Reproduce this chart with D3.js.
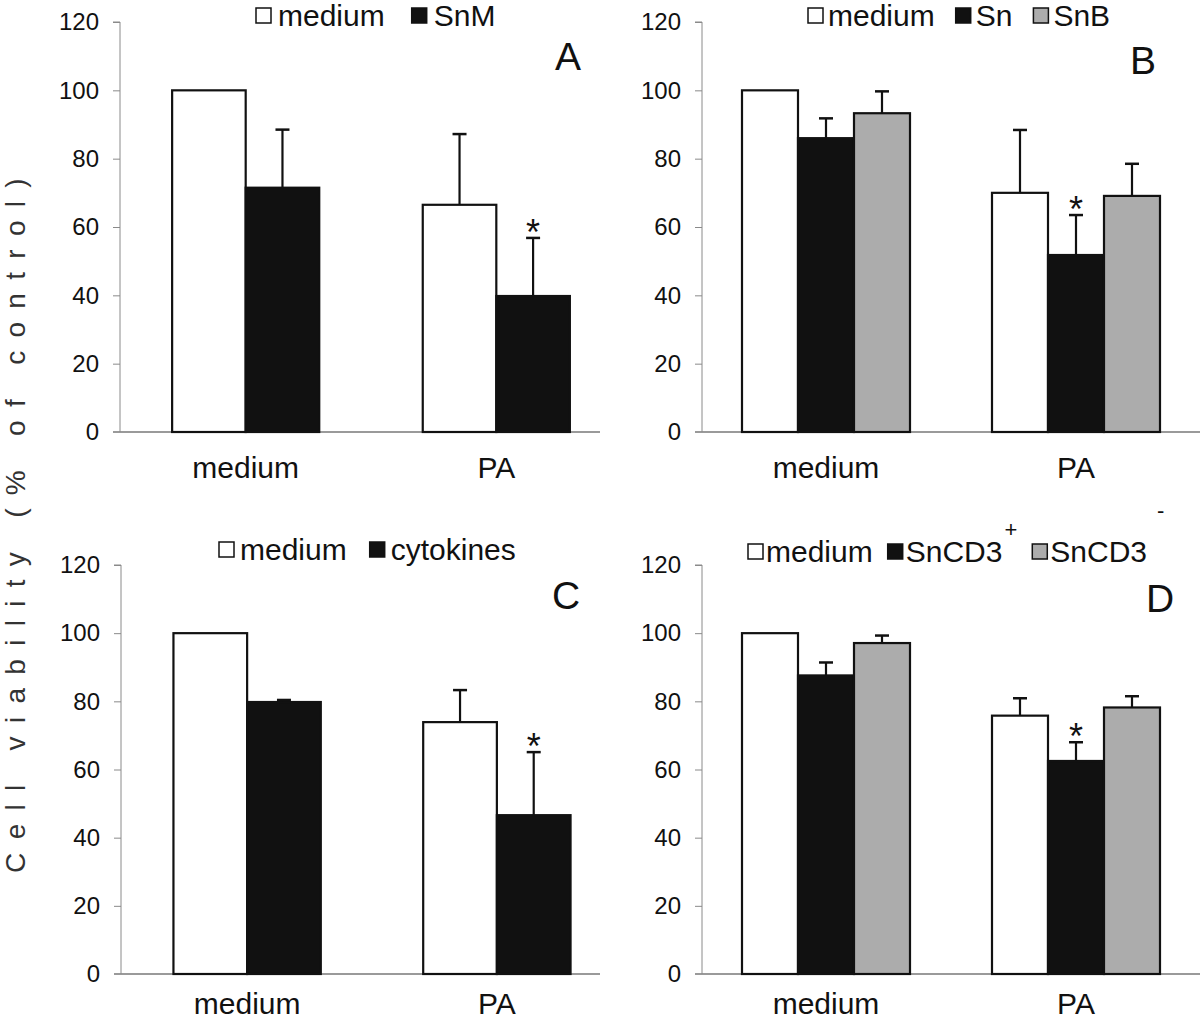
<!DOCTYPE html>
<html><head><meta charset="utf-8">
<script src="https://cdn.jsdelivr.net/npm/d3@7"></script>
<style>
html,body{margin:0;padding:0;background:#fff;}
svg{display:block;font-family:"Liberation Sans",Arial,sans-serif;}
</style></head>
<body>
<svg id="chart" width="1200" height="1021"></svg>
<script>
// ---------- data ----------
const categories = ["medium", "PA"];
const tickValues = [0, 20, 40, 60, 80, 100, 120];
const yLabel = "Cell viability (% of control)";

// Panel A
const seriesA = ["medium", "SnM"];
const valuesA = [[100, 66.5], [71.5, 39.8]];          // [series][category]
const errTopA = [[null, 87.2], [88.5, 56.8]];
const starA   = [[false, false], [false, true]];

// Panel B
const seriesB = ["medium", "Sn", "SnB"];
const valuesB = [[100, 70.0], [86.0, 51.8], [93.3, 69.1]];
const errTopB = [[null, 88.4], [91.8, 63.5], [99.7, 78.5]];
const starB   = [[false, false], [false, true], [false, false]];

// Panel C
const seriesC = ["medium", "cytokines"];
const valuesC = [[100, 73.9], [79.8, 46.6]];
const errTopC = [[null, 83.3], [80.4, 65.1]];
const starC   = [[false, false], [false, true]];

// Panel D
const seriesD = ["medium", "SnCD3", "SnCD3"];
const seriesSupD = ["", "+", "-"];
const valuesD = [[100, 75.8], [87.6, 62.5], [97.1, 78.2]];
const errTopD = [[null, 80.9], [91.4, 68.0], [99.3, 81.5]];
const starD   = [[false, false], [false, true], [false, false]];

// ---------- styling / layout ----------
const fills3 = ["#ffffff", "#111111", "#acacac"];
const panels = [
  {letter:"A", series:seriesA, sup:["",""], values:valuesA, err:errTopA, star:starA,
   ax:120, xr:[120, 622], pin:0.413, pout:0.208, base:[113, 600], yr:[432, 22],
   legendX:256, legendY:26, legendGap:27, sqGap:7, letterX:568, letterY:70, catY:478},
  {letter:"B", series:seriesB, sup:["","",""], values:valuesB, err:errTopB, star:starB,
   ax:702, xr:[702, 1200], pin:0.328, pout:0.16, base:[695, 1200], yr:[432, 22],
   legendX:808, legendY:26, legendGap:21, sqGap:5, letterX:1143, letterY:74, catY:478},
  {letter:"C", series:seriesC, sup:["",""], values:valuesC, err:errTopC, star:starC,
   ax:121, xr:[121, 623], pin:0.41, pout:0.21, base:[114, 600], yr:[974, 565],
   legendX:219, legendY:560, legendGap:23, sqGap:6, letterX:566, letterY:609, catY:1014},
  {letter:"D", series:seriesD, sup:seriesSupD, values:valuesD, err:errTopD, star:starD,
   ax:702, xr:[702, 1200], pin:0.328, pout:0.16, base:[695, 1200], yr:[974, 565],
   legendX:748, legendY:562, legendGap:15, sqGap:3, letterX:1160, letterY:612, catY:1014}
];

const svg = d3.select("#chart");

// y axis label
svg.append("text")
  .attr("transform", "translate(25,519) rotate(-90)")
  .attr("text-anchor", "middle")
  .attr("font-size", 28)
  .attr("letter-spacing", 13.3)
  .attr("fill", "#333")
  .text(yLabel);

panels.forEach(p => {
  const g = svg.append("g");
  const y = d3.scaleLinear().domain([0, 120]).range(p.yr);
  const x0 = d3.scaleBand().domain(categories).range(p.xr)
      .paddingInner(p.pin).paddingOuter(p.pout);
  const x1 = d3.scaleBand().domain(d3.range(p.series.length)).range([0, x0.bandwidth()]);

  // baseline
  g.append("line")
    .attr("x1", p.base[0]).attr("x2", p.base[1])
    .attr("y1", y(0)).attr("y2", y(0))
    .attr("stroke", "#9a9a9a").attr("stroke-width", 2);

  // y axis
  const axis = d3.axisLeft(y).tickValues(tickValues).tickSize(7).tickPadding(14);
  const ag = g.append("g").attr("transform", `translate(${p.ax},0)`).call(axis);
  ag.select(".domain").attr("stroke", "#8a8a8a").attr("stroke-width", 1)
    .attr("d", `M0,${y(0)}V${y(120)}H-7`);
  ag.selectAll(".tick line").attr("stroke", "#8a8a8a");
  ag.selectAll(".tick text").attr("font-size", 24).attr("fill", "#111")
    .attr("font-family", '"Liberation Sans",Arial,sans-serif');
  ag.selectAll(".tick").filter(d => d === 0).select("line").remove();

  // bars
  categories.forEach((cat, ci) => {
    p.series.forEach((s, si) => {
      const v = p.values[si][ci];
      const bx = x0(cat) + x1(si);
      const bw = x1.bandwidth();
      g.append("rect")
        .attr("x", bx).attr("y", y(v))
        .attr("width", bw).attr("height", y(0) - y(v))
        .attr("fill", fills3[si])
        .attr("stroke", "#111").attr("stroke-width", 2.2);
      const e = p.err[si][ci];
      if (e != null) {
        const cx = bx + bw / 2;
        g.append("line").attr("x1", cx).attr("x2", cx)
          .attr("y1", y(v)).attr("y2", y(e))
          .attr("stroke", "#111").attr("stroke-width", 2.2);
        g.append("line").attr("x1", cx - 7).attr("x2", cx + 7)
          .attr("y1", y(e)).attr("y2", y(e))
          .attr("stroke", "#111").attr("stroke-width", 2.5);
        if (p.star[si][ci]) {
          g.append("text").attr("x", cx).attr("y", y(e) + 7)
            .attr("text-anchor", "middle").attr("font-size", 36)
            .attr("fill", "#111").text("*");
        }
      }
    });
  });

  // category labels
  g.selectAll(".cat").data(categories).join("text")
    .attr("x", d => x0(d) + x0.bandwidth() / 2)
    .attr("y", p.catY)
    .attr("text-anchor", "middle")
    .attr("font-size", 30).attr("fill", "#111")
    .text(d => d);

  // panel letter
  g.append("text").attr("x", p.letterX).attr("y", p.letterY)
    .attr("text-anchor", "middle").attr("font-size", 39).attr("fill", "#111")
    .text(p.letter);

  // legend
  const lg = g.append("g").attr("transform", `translate(${p.legendX},0)`);
  let cx = 0;
  const sq = 15;
  p.series.forEach((s, si) => {
    if (si > 0) cx += p.legendGap;
    lg.append("rect").attr("x", cx).attr("y", p.legendY - sq - 3)
      .attr("width", sq).attr("height", sq)
      .attr("fill", fills3[si]).attr("stroke", "#111").attr("stroke-width", 1.5);
    cx += sq + p.sqGap;
    const t = lg.append("text").attr("x", cx).attr("y", p.legendY)
      .attr("font-size", 30).attr("fill", "#111").text(s);
    cx += t.node().getComputedTextLength();
    if (p.sup[si]) {
      const sup = p.sup[si];
      const st = lg.append("text").attr("x", cx + (sup === "-" ? 10 : 2))
        .attr("y", p.legendY - (sup === "-" ? 44 : 25))
        .attr("font-size", 22).attr("fill", "#111").text(sup);
      cx += 2 + st.node().getComputedTextLength();
    }
  });
});
</script>
</body></html>
